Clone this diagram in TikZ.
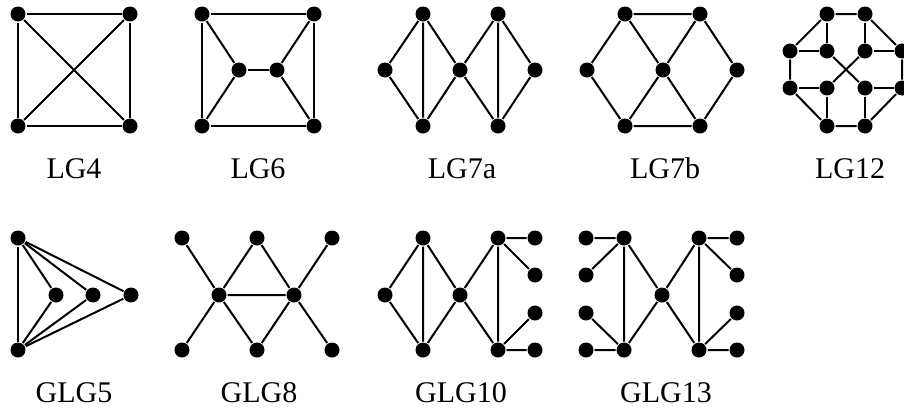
\documentclass[tikz,border=0pt]{standalone}
\usepackage{fontspec}
\setmainfont{Liberation Serif}
\usepackage{tikz}
\usetikzlibrary{calc}

\begin{document}
\begin{tikzpicture}[x=1pt,y=-1pt,line width=2pt,
        vtx/.style={circle,fill=black,inner sep=0pt,minimum size=15pt},
        lbl/.style={anchor=base,inner sep=0pt,font=\fontsize{30}{36}\selectfont}]
    \useasboundingbox (0,0) rectangle (904,410);

    % LG4
    \draw node [vtx] (A1) at (18,14) {};
    \draw node [vtx] (A2) at (130,14) {};
    \draw node [vtx] (A3) at (18,126) {};
    \draw node [vtx] (A4) at (130,126) {};
    \draw (A1) -- (A2) -- (A4) -- (A3) -- (A1);
    \draw (A1) -- (A4);
    \draw (A2) -- (A3);
    \node [lbl] (LA) at (74,178) {LG4};

    % LG6
    \draw node [vtx] (B1) at (202,14) {};
    \draw node [vtx] (B2) at (314,14) {};
    \draw node [vtx] (B3) at (202,126) {};
    \draw node [vtx] (B4) at (314,126) {};
    \draw node [vtx] (B5) at (239,70) {};
    \draw node [vtx] (B6) at (277,70) {};
    \draw (B1) -- (B2) -- (B4) -- (B3) -- (B1);
    \draw (B1) -- (B5) -- (B3);
    \draw (B2) -- (B6) -- (B4);
    \draw (B5) -- (B6);
    \node [lbl] (LB) at (258,178) {LG6};

    % LG7a
    \draw node [vtx] (C1) at (385,70) {};
    \draw node [vtx] (C2) at (423,14) {};
    \draw node [vtx] (C3) at (423,126) {};
    \draw node [vtx] (C4) at (460,70) {};
    \draw node [vtx] (C5) at (498,14) {};
    \draw node [vtx] (C6) at (498,126) {};
    \draw node [vtx] (C7) at (535,70) {};
    \draw (C2) -- (C1) -- (C3) -- (C2) -- (C4) -- (C3);
    \draw (C5) -- (C4) -- (C6) -- (C5) -- (C7) -- (C6);
    \node [lbl] (LC) at (462,178) {LG7a};

    % LG7b
    \draw node [vtx] (D1) at (587,70) {};
    \draw node [vtx] (D2) at (625,14) {};
    \draw node [vtx] (D3) at (700,14) {};
    \draw node [vtx] (D4) at (663,70) {};
    \draw node [vtx] (D5) at (625,126) {};
    \draw node [vtx] (D6) at (700,126) {};
    \draw node [vtx] (D7) at (737,70) {};
    \draw (D1) -- (D2) -- (D3) -- (D7) -- (D6) -- (D5) -- (D1);
    \draw (D2) -- (D4) -- (D6);
    \draw (D3) -- (D4) -- (D5);
    \node [lbl] (LD) at (665,178) {LG7b};

    % LG12
    \draw node [vtx] (E1) at (827,14) {};
    \draw node [vtx] (E2) at (865,14) {};
    \draw node [vtx] (E3) at (902,51) {};
    \draw node [vtx] (E4) at (902,88) {};
    \draw node [vtx] (E5) at (865,126) {};
    \draw node [vtx] (E6) at (827,126) {};
    \draw node [vtx] (E7) at (790,88) {};
    \draw node [vtx] (E8) at (790,51) {};
    \draw node [vtx] (E9) at (827,51) {};
    \draw node [vtx] (E10) at (865,51) {};
    \draw node [vtx] (E11) at (827,88) {};
    \draw node [vtx] (E12) at (865,88) {};
    \draw (E1) -- (E2) -- (E3) -- (E4) -- (E5) -- (E6) -- (E7) -- (E8) -- (E1);
    \draw (E1) -- (E9) -- (E8);
    \draw (E2) -- (E10) -- (E3);
    \draw (E6) -- (E11) -- (E7);
    \draw (E5) -- (E12) -- (E4);
    \draw (E9) -- (E12);
    \draw (E10) -- (E11);
    \node [lbl] (LE) at (850,178) {LG12};

    % GLG5
    \draw node [vtx] (F1) at (18,238) {};
    \draw node [vtx] (F2) at (18,350) {};
    \draw node [vtx] (F3) at (56,295) {};
    \draw node [vtx] (F4) at (93,295) {};
    \draw node [vtx] (F5) at (131,295) {};
    \draw (F1) -- (F2);
    \draw (F1) -- (F3) -- (F2);
    \draw (F1) -- (F4) -- (F2);
    \draw (F1) -- (F5) -- (F2);
    \node [lbl] (LF) at (74,402) {GLG5};

    % GLG8
    \draw node [vtx] (G1) at (182,238) {};
    \draw node [vtx] (G2) at (257,238) {};
    \draw node [vtx] (G3) at (332,238) {};
    \draw node [vtx] (G4) at (219,295) {};
    \draw node [vtx] (G5) at (294,295) {};
    \draw node [vtx] (G6) at (182,350) {};
    \draw node [vtx] (G7) at (257,350) {};
    \draw node [vtx] (G8) at (332,350) {};
    \draw (G1) -- (G4) -- (G6);
    \draw (G3) -- (G5) -- (G8);
    \draw (G4) -- (G2) -- (G5) -- (G7) -- (G4) -- (G5);
    \node [lbl] (LG) at (259,402) {GLG8};

    % GLG10
    \draw node [vtx] (H1) at (385,295) {};
    \draw node [vtx] (H2) at (423,238) {};
    \draw node [vtx] (H3) at (423,350) {};
    \draw node [vtx] (H4) at (460,295) {};
    \draw node [vtx] (H5) at (498,238) {};
    \draw node [vtx] (H6) at (498,350) {};
    \draw node [vtx] (H7) at (535,238) {};
    \draw node [vtx] (H8) at (535,275) {};
    \draw node [vtx] (H9) at (535,313) {};
    \draw node [vtx] (H10) at (535,350) {};
    \draw (H2) -- (H1) -- (H3) -- (H2) -- (H4) -- (H3);
    \draw (H5) -- (H4) -- (H6) -- (H5);
    \draw (H7) -- (H5) -- (H8);
    \draw (H9) -- (H6) -- (H10);
    \node [lbl] (LH) at (461,402) {GLG10};

    % GLG13
    \draw node [vtx] (K1) at (586,238) {};
    \draw node [vtx] (K2) at (586,275) {};
    \draw node [vtx] (K3) at (586,313) {};
    \draw node [vtx] (K4) at (586,350) {};
    \draw node [vtx] (K5) at (624,238) {};
    \draw node [vtx] (K6) at (624,350) {};
    \draw node [vtx] (K7) at (662,295) {};
    \draw node [vtx] (K8) at (699,238) {};
    \draw node [vtx] (K9) at (699,350) {};
    \draw node [vtx] (K10) at (737,238) {};
    \draw node [vtx] (K11) at (737,275) {};
    \draw node [vtx] (K12) at (737,313) {};
    \draw node [vtx] (K13) at (737,350) {};
    \draw (K1) -- (K5) -- (K2);
    \draw (K3) -- (K6) -- (K4);
    \draw (K5) -- (K6) -- (K7) -- (K5);
    \draw (K8) -- (K7) -- (K9) -- (K8);
    \draw (K10) -- (K8) -- (K11);
    \draw (K12) -- (K9) -- (K13);
    \node [lbl] (LK) at (666,402) {GLG13};
\end{tikzpicture}
\end{document}
